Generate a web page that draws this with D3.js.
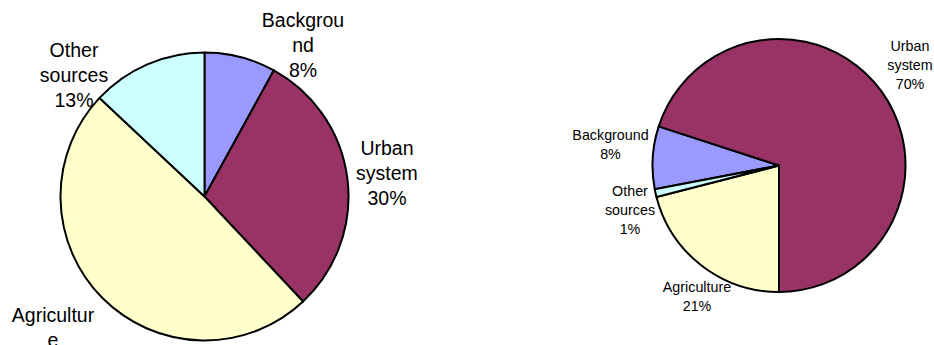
<!DOCTYPE html>
<html>
<head>
<meta charset="utf-8">
<script src="https://cdn.jsdelivr.net/npm/d3@7/dist/d3.min.js"></script>
<style>
  html, body { margin: 0; padding: 0; background: #fff; }
  svg { display: block; }
  text { font-family: "Liberation Sans", Arial, sans-serif; fill: #000; }
</style>
</head>
<body>
<svg id="chart" width="934" height="345"></svg>
<script>
// Source categories shared by both pies
const categories = ["Background", "Urban system", "Agriculture", "Other sources"];
// Share of each source (%) for the two cases
const sharesLeft = [8, 30, 49, 13];
const sharesRight = [8, 70, 21, 1];

const colors = d3.scaleOrdinal()
  .domain(categories)
  .range(["#9999ff", "#993366", "#ffffcc", "#ccffff"]);

// Layout for each pie: centre, radius, start angle, label font and label anchors
const pies = [
  {
    values: sharesLeft,
    cx: 204.5, cy: 196.5, r: 144,
    start: 0,
    fontSize: 19.5, lineH: 25, wrapW: 88,
    labels: {
      "Background":    [303, 26.5],
      "Urban system":  [387, 155],
      "Agriculture":   [53, 322],
      "Other sources": [74, 57]
    }
  },
  {
    values: sharesRight,
    cx: 779, cy: 165.5, r: 126.5,
    start: 259.2,
    fontSize: 14.3, lineH: 19.2, wrapW: 82,
    labels: {
      "Background":    [610.5, 139.5],
      "Urban system":  [910, 50.5],
      "Agriculture":   [697, 291.5],
      "Other sources": [630, 196]
    }
  }
];

const svg = d3.select("#chart");

// Break a label into lines no wider than maxW, splitting long words like a text box would
function wrapLines(textSel, str, maxW) {
  const probe = textSel.append("tspan");
  const fits = s => { probe.text(s); return probe.node().getComputedTextLength() <= maxW; };
  const lines = [];
  let cur = "";
  for (const word of str.split(" ")) {
    const trial = cur ? cur + " " + word : word;
    if (fits(trial)) { cur = trial; continue; }
    if (cur) { lines.push(cur); cur = ""; }
    let w = word;
    while (!fits(w)) {
      let k = w.length - 1;
      while (k > 1 && !fits(w.slice(0, k))) k--;
      lines.push(w.slice(0, k));
      w = w.slice(k);
    }
    cur = w;
  }
  if (cur) lines.push(cur);
  probe.remove();
  return lines;
}

pies.forEach(p => {
  const a0 = p.start * Math.PI / 180;
  const pie = d3.pie()
    .sort(null)
    .value(d => d.value)
    .startAngle(a0)
    .endAngle(a0 + 2 * Math.PI);
  const arc = d3.arc().innerRadius(0).outerRadius(p.r);

  const data = categories.map((c, i) => ({ cat: c, value: p.values[i] }));
  const g = svg.append("g").attr("transform", `translate(${p.cx},${p.cy})`);

  g.selectAll("path")
    .data(pie(data))
    .join("path")
    .attr("d", arc)
    .attr("fill", d => colors(d.data.cat))
    .attr("stroke", "#000")
    .attr("stroke-width", 2)
    .attr("stroke-linejoin", "round");

  // Labels: wrapped category name followed by the percentage
  data.forEach(d => {
    const [x, y] = p.labels[d.cat];
    const t = svg.append("text")
      .attr("x", x).attr("y", y)
      .attr("text-anchor", "middle")
      .style("font-size", p.fontSize + "px");
    const lines = wrapLines(t, d.cat, p.wrapW);
    lines.push(d3.format("d")(d.value) + "%");
    lines.forEach((ln, i) => {
      t.append("tspan")
        .attr("x", x)
        .attr("y", y + i * p.lineH)
        .text(ln);
    });
  });
});
</script>
</body>
</html>
